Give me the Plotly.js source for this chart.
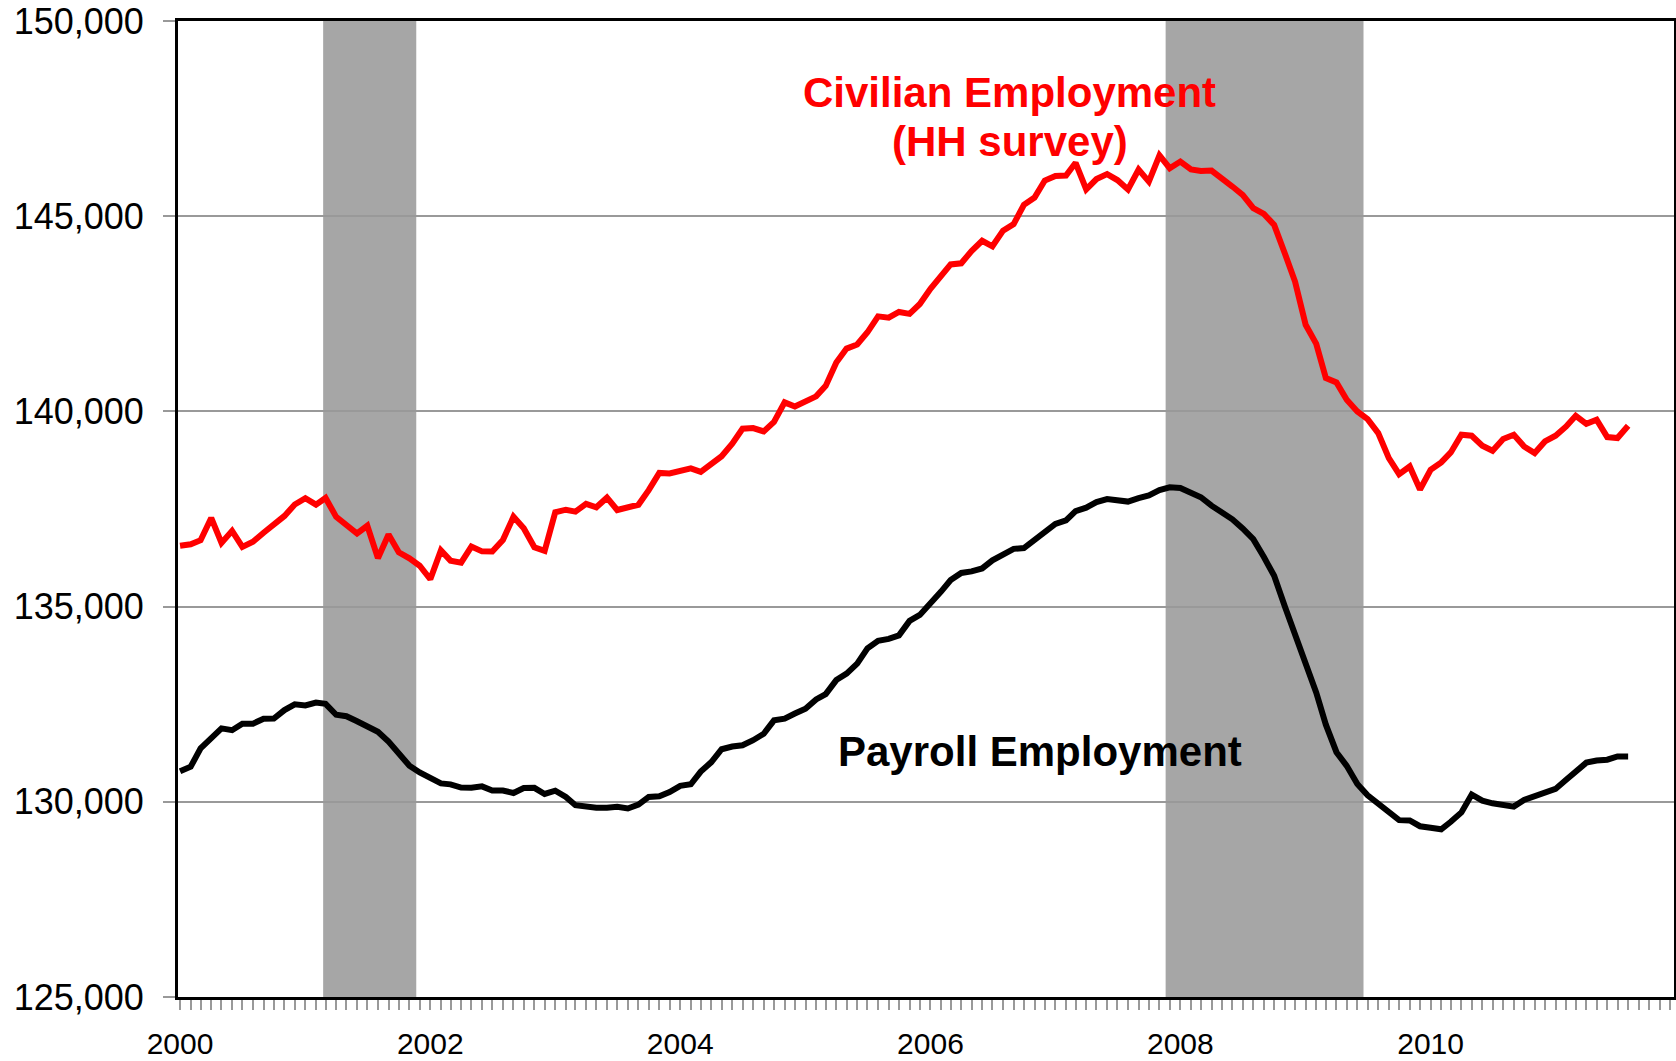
<!DOCTYPE html>
<html>
<head>
<meta charset="utf-8">
<script src="https://cdn.plot.ly/plotly-3.0.1.min.js"></script>
<style>
  html, body { margin: 0; padding: 0; background: #ffffff; }
  #chart { width: 1676px; height: 1061px; }
</style>
</head>
<body>
<div id="chart"></div>
<script>
// ---- Data (thousands of persons, monthly, Jan 2000 - Aug 2011) ----
const startYear = 2000;
const monthCount = 140;

const civilianEmployment = [
  136559, 136598, 136701, 137270, 136630, 136940, 136531, 136662, 136893, 137088, 137322, 137614,
  137778, 137612, 137783, 137299, 137092, 136873, 137071, 136241, 136846, 136392, 136238, 136047,
  135701, 136438, 136177, 136126, 136539, 136415, 136413, 136705, 137302, 137008, 136521, 136426,
  137417, 137482, 137434, 137633, 137544, 137790, 137474, 137549, 137609, 137984, 138424, 138411,
  138472, 138542, 138453, 138680, 138852, 139174, 139556, 139573, 139487, 139732, 140231, 140125,
  140245, 140385, 140654, 141254, 141609, 141714, 142026, 142434, 142401, 142548, 142499, 142752,
  143142, 143444, 143765, 143794, 144108, 144370, 144229, 144631, 144797, 145292, 145477, 145914,
  146032, 146043, 146368, 145686, 145952, 146079, 145926, 145685, 146193, 145885, 146560, 146230,
  146400, 146200, 146160, 146170, 145947, 145760, 145546, 145205, 145059, 144778, 144052, 143326,
  142218, 141731, 140853, 140741, 140298, 139999, 139803, 139444, 138803, 138394, 138590, 138000,
  138506, 138693, 138949, 139402, 139376, 139120, 138992, 139291, 139402, 139103, 138933, 139230,
  139376, 139615, 139888, 139683, 139786, 139342, 139317, 139632
];

const payrollEmployment = [
  130781, 130898, 131370, 131658, 131881, 131834, 132000, 132002, 132128, 132131, 132350, 132497,
  132469, 132540, 132508, 132229, 132193, 132064, 131944, 131792, 131541, 131217, 130924, 130750,
  130610, 130471, 130447, 130363, 130359, 130395, 130291, 130289, 130226, 130352, 130358, 130200,
  130284, 130125, 129914, 129864, 129847, 129848, 129870, 129828, 129929, 130126, 130139, 130250,
  130409, 130448, 130774, 131017, 131346, 131417, 131449, 131578, 131743, 132086, 132130, 132260,
  132384, 132622, 132758, 133118, 133282, 133541, 133929, 134124, 134173, 134263, 134634, 134787,
  135066, 135385, 135679, 135863, 135901, 135978, 136186, 136353, 136479, 136500, 136701, 136878,
  137117, 137209, 137448, 137535, 137678, 137753, 137720, 137690, 137777, 137850, 137985, 138056,
  138040, 137919, 137801, 137586, 137402, 137236, 137001, 136727, 136269, 135789, 135011, 134321,
  133523, 132794, 131976, 131271, 130921, 130454, 130168, 129953, 129729, 129530, 129521, 129374,
  129334, 129296, 129488, 129729, 130187, 130028, 129961, 129902, 129877, 130048, 130141, 130262,
  130330, 130565, 130787, 131004, 131058, 131078, 131163, 131163
];

// Recession periods (shaded)
const recessionStart = ['2001-02-22', '2007-11-19'];
const recessionEnd   = ['2001-11-21', '2009-06-19'];

const yTickValues = [125000, 130000, 135000, 140000, 145000, 150000];

// ---- Month categories ----
const months = [];
for (let i = 0; i < monthCount; i++) {
  const y = startYear + Math.floor(i / 12);
  const m = (i % 12) + 1;
  months.push(y + '-' + (m < 10 ? '0' + m : m) + '-01');
}

const FONT = 'Liberation Sans, Arial, Helvetica, sans-serif';

const traces = [
  {
    x: months, y: civilianEmployment, type: 'scatter', mode: 'lines',
    line: { color: '#ff0000', width: 6 }, name: 'Civilian Employment (HH survey)',
    hoverinfo: 'skip'
  },
  {
    x: months, y: payrollEmployment, type: 'scatter', mode: 'lines',
    line: { color: '#000000', width: 6 }, name: 'Payroll Employment',
    hoverinfo: 'skip'
  }
];

const shapes = recessionStart.map((s, k) => ({
  type: 'rect', xref: 'x', yref: 'paper',
  x0: s, x1: recessionEnd[k], y0: 0, y1: 1,
  fillcolor: '#a6a6a6', line: { width: 0 }, layer: 'between'
}));

const layout = {
  width: 1676, height: 1061,
  margin: { l: 178, r: 2, t: 21, b: 64, pad: 0 },
  paper_bgcolor: '#ffffff', plot_bgcolor: '#ffffff',
  showlegend: false,
  font: { family: FONT, color: '#000000' },
  xaxis: {
    type: 'date',
    range: ['1999-12-26', '2011-12-13'],
    tick0: '2000-01-01', dtick: 'M24', tickformat: '%Y',
    ticks: 'outside', ticklen: 10, tickwidth: 2, tickcolor: '#999999',
    tickfont: { family: FONT, size: 30, color: '#000000' },
    ticklabelstandoff: 8,
    minor: { dtick: 'M1', ticks: 'outside', ticklen: 10, tickwidth: 2, tickcolor: '#999999', showgrid: false },
    showgrid: false, zeroline: false,
    showline: true, linecolor: '#000000', linewidth: 3, mirror: true,
    automargin: false, fixedrange: true
  },
  yaxis: {
    range: [125000, 150000],
    tickvals: yTickValues, tickformat: ',d',
    ticks: 'outside', ticklen: 12, tickwidth: 2, tickcolor: '#999999',
    tickfont: { family: FONT, size: 36, color: '#000000' },
    ticklabelstandoff: 12,
    showgrid: true, gridcolor: '#999999', gridwidth: 2,
    zeroline: false,
    showline: true, linecolor: '#000000', linewidth: 3, mirror: true,
    automargin: false, fixedrange: true
  },
  shapes: shapes,
  annotations: [
    {
      text: '<b>Civilian Employment</b>', xref: 'paper', yref: 'paper',
      x: 0.5561, y: 0.9263, xanchor: 'center', yanchor: 'middle', showarrow: false,
      font: { family: FONT, size: 42, color: '#ff0000' }
    },
    {
      text: '<b>(HH survey)</b>', xref: 'paper', yref: 'paper',
      x: 0.5561, y: 0.8765, xanchor: 'center', yanchor: 'middle', showarrow: false,
      font: { family: FONT, size: 42, color: '#ff0000' }
    },
    {
      text: '<b>Payroll Employment</b>', xref: 'paper', yref: 'paper',
      x: 0.5762, y: 0.252, xanchor: 'center', yanchor: 'middle', showarrow: false,
      font: { family: FONT, size: 42, color: '#000000' }
    }
  ]
};

Plotly.newPlot('chart', traces, layout, { displayModeBar: false, staticPlot: true });
</script>
</body>
</html>
